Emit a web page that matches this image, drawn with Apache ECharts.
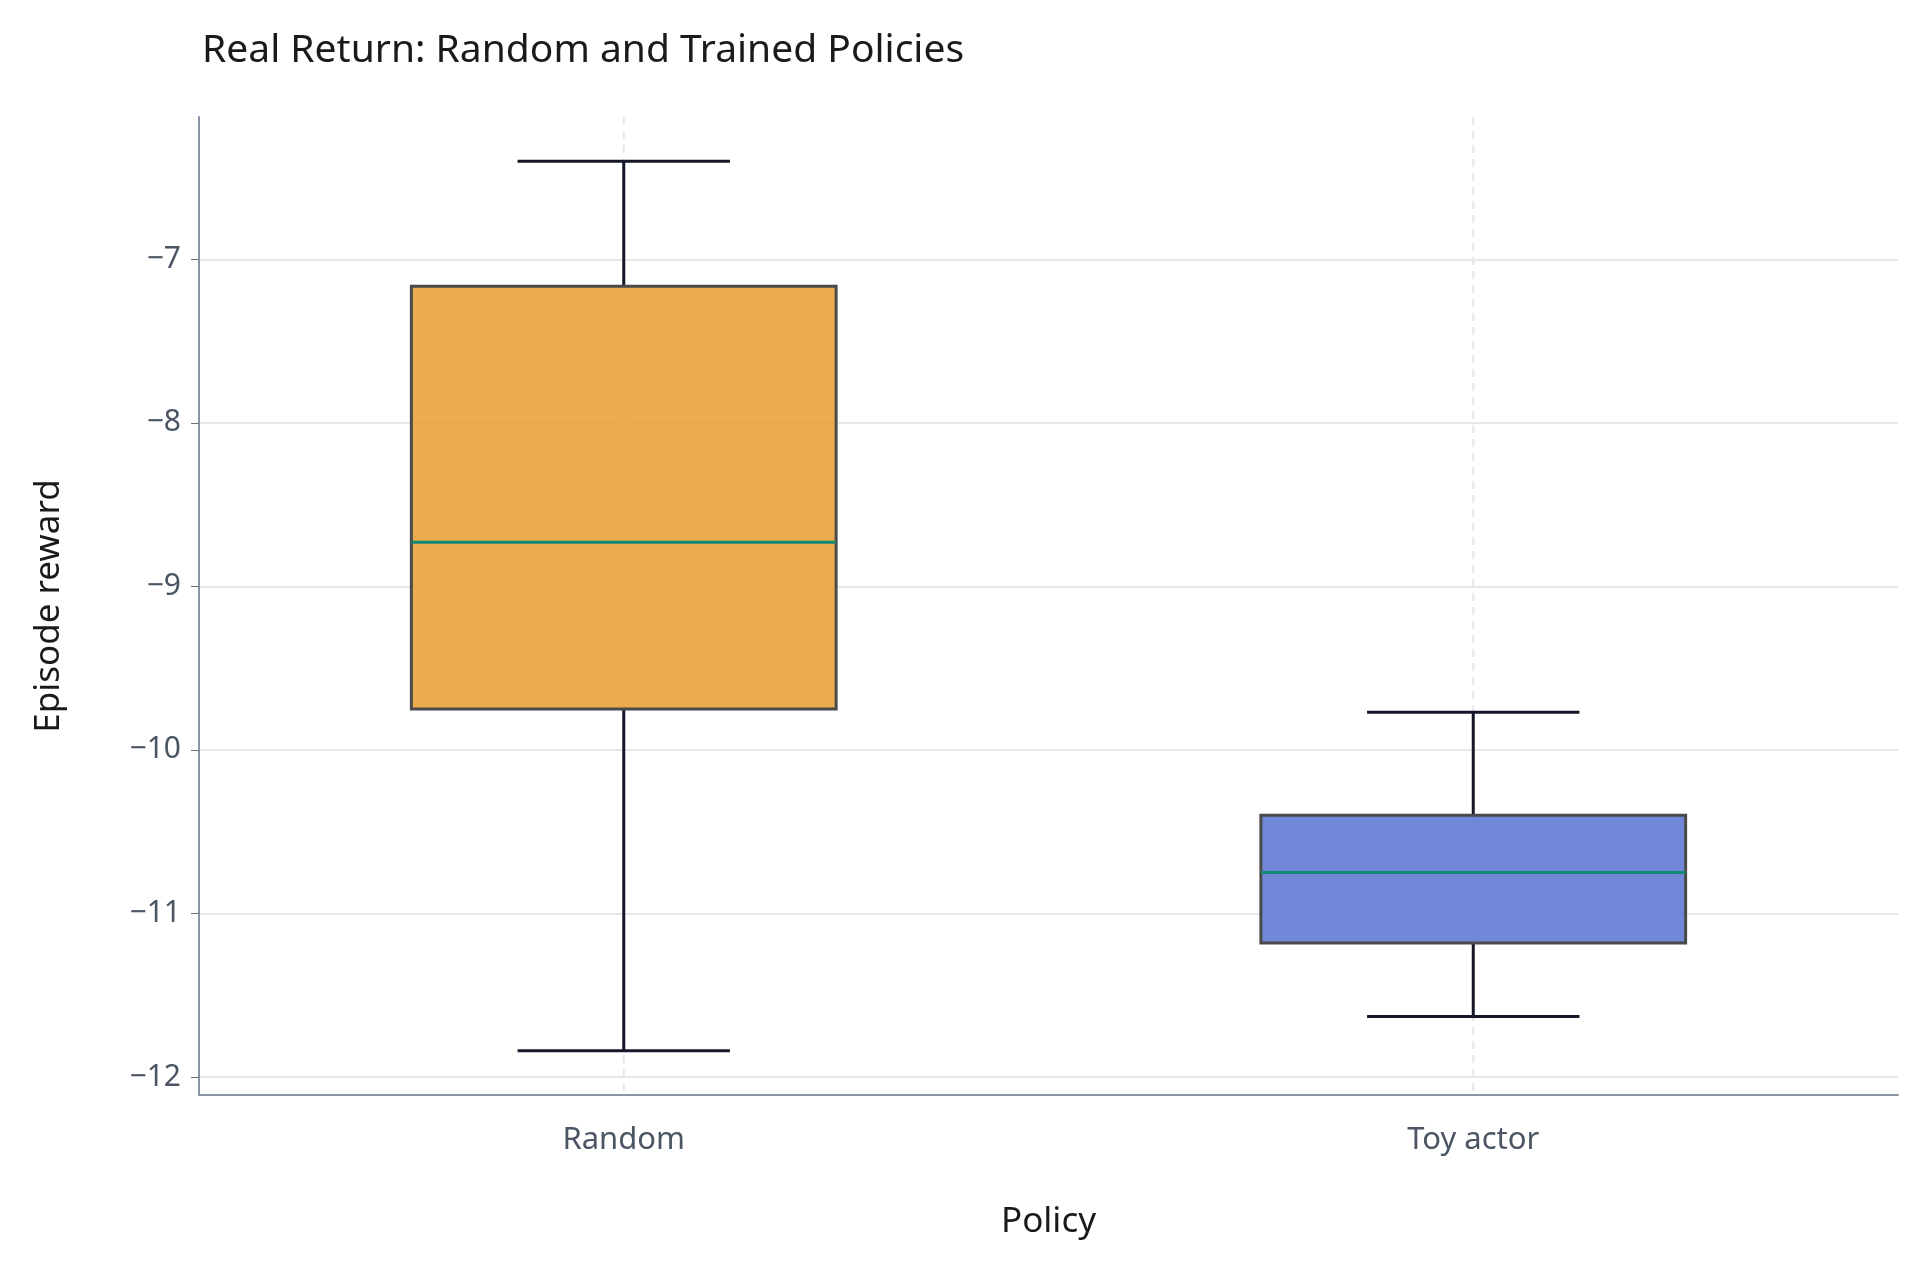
<!DOCTYPE html>
<html><head><meta charset="utf-8">
<script src="https://cdn.jsdelivr.net/npm/echarts@6/dist/echarts.min.js"></script>
<style>html,body{margin:0;padding:0;background:#fff}#c{width:1920px;height:1269px}</style>
</head><body><div id="c"></div>
<script>
const categories = ['Random', 'Toy actor'];
// [low whisker, Q1, median, Q3, high whisker]
const lowWhisker = [-11.84, -11.63];
const q1 = [-9.75, -11.18];
const median = [-8.73, -10.75];
const q3 = [-7.165, -10.40];
const highWhisker = [-6.40, -9.77];
const boxColors = ['rgba(232,160,52,0.88)', 'rgba(93,120,212,0.88)'];

const data = categories.map((c, i) => [i, lowWhisker[i], q1[i], median[i], q3[i], highWhisker[i]]);
const font = 'Noto Sans';
const chart = echarts.init(document.getElementById('c'));
chart.setOption({
  backgroundColor: '#fff',
  title: {text: 'Real Return: Random and Trained Policies', left: 197, top: 26,
    textStyle: {fontFamily: font, fontSize: 39, fontWeight: 'normal', color: '#1a1a1a'}},
  grid: {left: 199, right: 22, top: 117, bottom: 174},
  xAxis: {type: 'category', data: categories, name: 'Policy', nameLocation: 'middle', nameGap: 110,
    nameTextStyle: {fontFamily: font, fontSize: 35, color: '#1a1a1a'},
    axisLine: {lineStyle: {color: '#8a94a6', width: 2}},
    axisTick: {alignWithLabel: true, length: 8, lineStyle: {color: '#6b7280'}},
    axisLabel: {fontFamily: font, fontSize: 31, color: '#4b5563', margin: 30}},
  yAxis: {type: 'value', min: -12.11, max: -6.13, splitNumber: 6, name: 'Episode reward',
    nameLocation: 'middle', nameGap: 132,
    nameTextStyle: {fontFamily: font, fontSize: 35, color: '#1a1a1a'},
    axisLine: {show: true, lineStyle: {color: '#8a94a6', width: 2}},
    axisTick: {show: true, length: 8, lineStyle: {color: '#6b7280'}},
    axisLabel: {fontFamily: font, fontSize: 30, color: '#4b5563', margin: 18, showMinLabel: false, showMaxLabel: false,
      formatter: v => Number.isInteger(v) ? String(v).replace('-', '−') : ''},
    splitLine: {showMinLine: false, showMaxLine: false, lineStyle: {color: '#e5e7eb', width: 2}}},
  series: [{
    type: 'custom', data: data, encode: {x: 0, y: [1, 2, 3, 4, 5]},
    renderItem: (params, api) => {
      const i = api.value(0);
      const c = api.coord([i, 0])[0];
      const bw = api.size([1, 0])[0];
      const y = k => api.coord([i, api.value(k)])[1];
      const cs = params.coordSys;
      const half = bw * 0.25, cap = bw * 0.125;
      const line = (x1, y1, x2, y2, color, w, dash) => ({type: 'line', shape: {x1, y1, x2, y2},
        style: {stroke: color, lineWidth: w, lineDash: dash || null}});
      return {type: 'group', children: [
        line(c, cs.y, c, cs.y + cs.height, '#e5e7eb', 2, [8, 6]),
        line(c, y(5), c, y(4), '#15172a', 3),
        line(c, y(2), c, y(1), '#15172a', 3),
        line(c - cap, y(5), c + cap, y(5), '#15172a', 3),
        line(c - cap, y(1), c + cap, y(1), '#15172a', 3),
        {type: 'rect', shape: {x: c - half, y: y(4), width: 2 * half, height: y(2) - y(4)},
          style: {fill: boxColors[i], stroke: '#4a4a4a', lineWidth: 3}},
        line(c - half, y(3), c + half, y(3), '#138a72', 3)
      ]};
    }
  }]
});
</script></body></html>
